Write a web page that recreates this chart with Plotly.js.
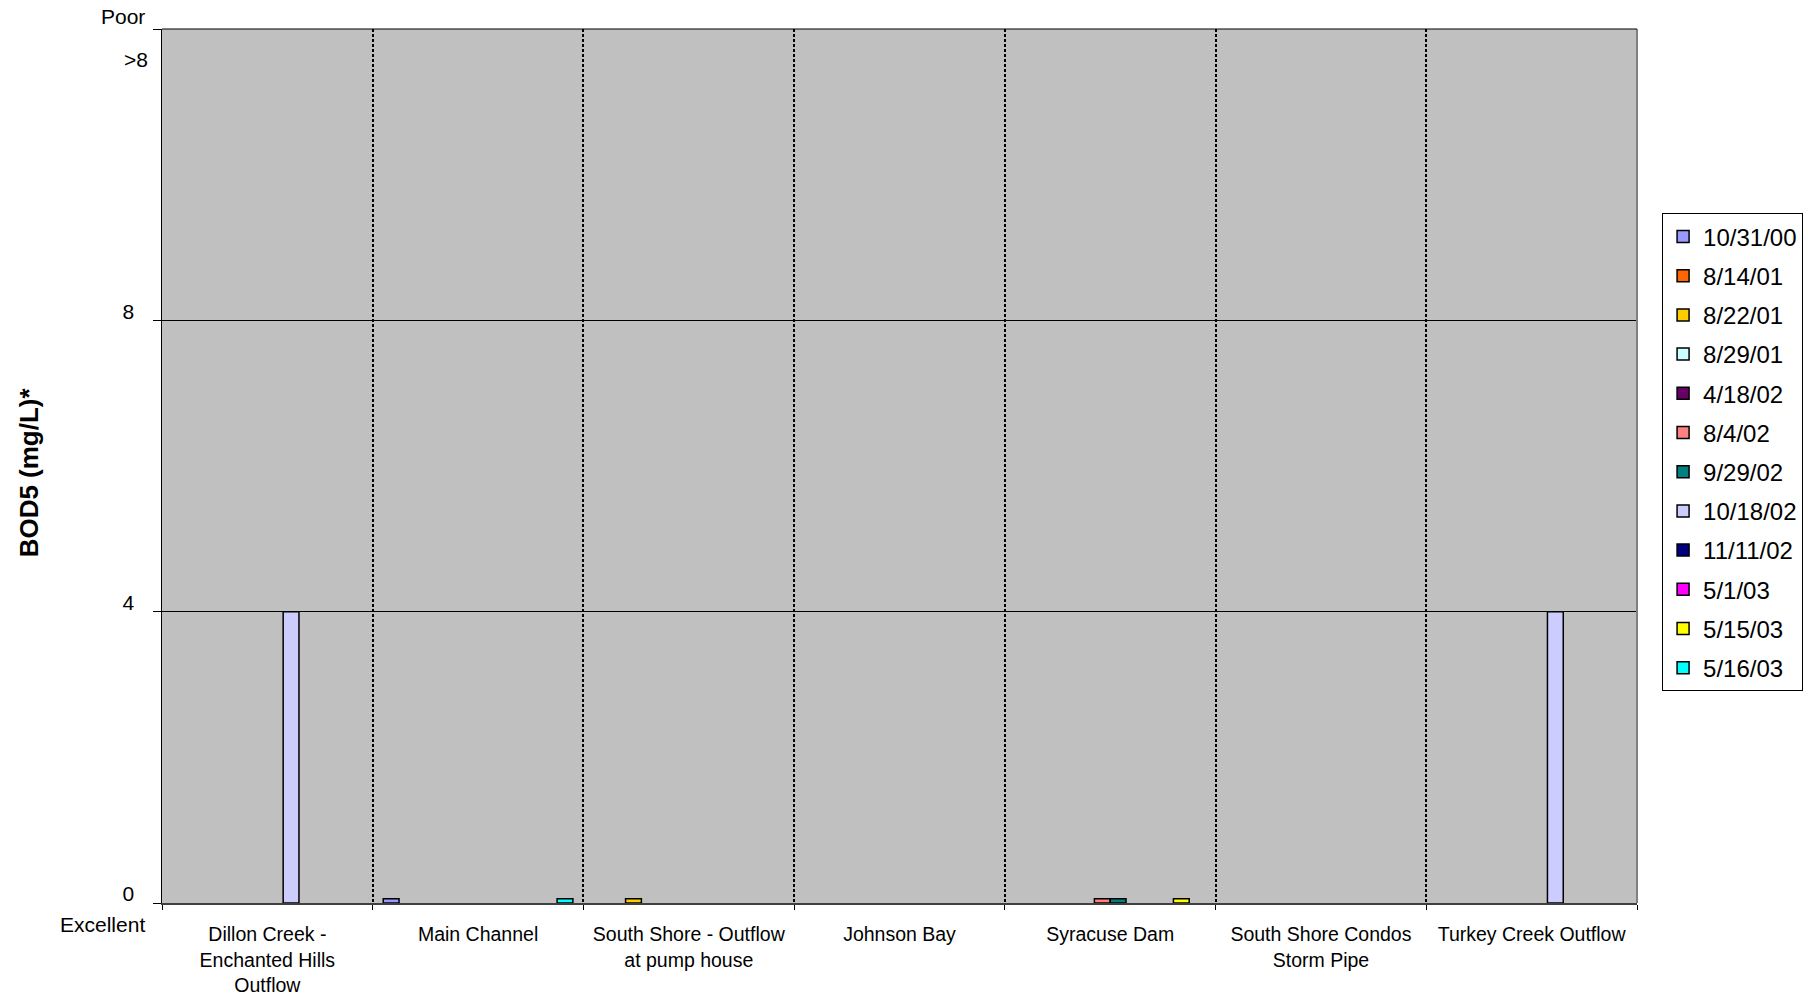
<!DOCTYPE html>
<html>
<head>
<meta charset="utf-8">
<script src="https://cdn.plot.ly/plotly-3.0.1.min.js"></script>
<style>
  html, body { margin: 0; padding: 0; background: #fff; }
  #chart { width: 1806px; height: 998px; }
</style>
</head>
<body>
<div id="chart"></div>
<script>
// ---- data ----
const categories = [
  "Dillon Creek -<br>Enchanted Hills<br>Outflow",
  "Main Channel",
  "South Shore - Outflow<br>at pump house",
  "Johnson Bay",
  "Syracuse Dam",
  "South Shore Condos<br>Storm Pipe",
  "Turkey Creek Outflow"
];
const seriesNames = ["10/31/00","8/14/01","8/22/01","8/29/01","4/18/02","8/4/02",
                     "9/29/02","10/18/02","11/11/02","5/1/03","5/15/03","5/16/03"];
const v_10_31_00 = [null, 0.06, null, null, null, null, null];
const v_8_14_01  = [null, null, null, null, null, null, null];
const v_8_22_01  = [null, null, 0.06, null, null, null, null];
const v_8_29_01  = [null, null, null, null, null, null, null];
const v_4_18_02  = [null, null, null, null, null, null, null];
const v_8_4_02   = [null, null, null, null, 0.06, null, null];
const v_9_29_02  = [null, null, null, null, 0.06, null, null];
const v_10_18_02 = [4, null, null, null, null, null, 4];
const v_11_11_02 = [null, null, null, null, null, null, null];
const v_5_1_03   = [null, null, null, null, null, null, null];
const v_5_15_03  = [null, null, null, null, 0.06, null, null];
const v_5_16_03  = [null, 0.06, null, null, null, null, null];
const seriesValues = [v_10_31_00, v_8_14_01, v_8_22_01, v_8_29_01, v_4_18_02, v_8_4_02,
                      v_9_29_02, v_10_18_02, v_11_11_02, v_5_1_03, v_5_15_03, v_5_16_03];
const yTickVals = [0, 4, 8, 12];
const yTickText = ["0", "4", "8", ""];
const extraYLabels = [">8", "Poor", "Excellent"];

// ---- styles ----
const colors = ["#9999FF","#FF6600","#FFCC00","#CCFFFF","#660066","#FF8080",
                "#008080","#CCCCFF","#000080","#FF00FF","#FFFF00","#00FFFF"];
const extraYLabelPos = [0.965, 1.014, -0.025];   // paper fractions
const FONT = "Liberation Sans, Arial, sans-serif";

const traces = seriesNames.map((name, i) => ({
  type: "bar",
  name: name,
  x: categories,
  y: seriesValues[i],
  legendgroup: "g" + i,
  marker: { color: colors[i], line: { color: "#000000", width: 1.5 } },
  hoverinfo: "name+y"
}));

const annotations = extraYLabels.map((t, i) => ({
  text: t, xref: "paper", yref: "paper", x: 0, y: extraYLabelPos[i],
  xanchor: "right", yanchor: "middle", xshift: i === 0 ? -12 : -15, showarrow: false,
  font: { family: FONT, size: 21, color: "#000" }
}));
annotations.push({
  text: "<b>BOD5 (mg/L)*</b>", xref: "paper", yref: "paper",
  x: -0.09, y: 0.493, xanchor: "center", yanchor: "middle", textangle: -90,
  showarrow: false, font: { family: FONT, size: 26, color: "#000" }
});

const layout = {
  width: 1806, height: 998,
  margin: { l: 162, r: 169, t: 29, b: 95, pad: 0, autoexpand: false },
  paper_bgcolor: "#FFFFFF",
  plot_bgcolor: "#C0C0C0",
  font: { family: FONT, size: 21, color: "#000" },
  barmode: "group",
  bargap: 0.1,
  bargroupgap: 0,
  showlegend: true,
  legend: {
    x: 1.017, y: 0.789, xanchor: "left", yanchor: "top",
    bgcolor: "#FFFFFF", bordercolor: "#000000", borderwidth: 1,
    font: { family: FONT, size: 24, color: "#000" },
    traceorder: "grouped", tracegroupgap: 5, itemwidth: 30
  },
  xaxis: {
    type: "category",
    tickson: "boundaries",
    tickangle: 0,
    ticks: "outside", ticklen: 5, tickcolor: "#000",
    showgrid: true, gridcolor: "#000000", gridwidth: 2, griddash: "3px,2px",
    showline: true, linecolor: "#404040", linewidth: 2,
    tickfont: { family: FONT, size: 19.5, color: "#000" },
    ticklabelstandoff: 13,
    automargin: false,
    fixedrange: true
  },
  yaxis: {
    range: [0, 12],
    tickvals: yTickVals, ticktext: yTickText,
    ticks: "outside", ticklen: 8, tickcolor: "#000",
    showgrid: true, gridcolor: "#000000", gridwidth: 1,
    zeroline: false,
    showline: true, linecolor: "#000000", linewidth: 1.5,
    tickfont: { family: FONT, size: 21, color: "#000" },
    ticklabelshift: -9,
    ticklabelstandoff: 14,
    automargin: false,
    fixedrange: true
  },
  shapes: [
    { type: "line", xref: "paper", yref: "paper", x0: 1, x1: 1, y0: 0, y1: 1,
      line: { color: "#808080", width: 2 }, layer: "above" },
    { type: "line", xref: "paper", yref: "paper", x0: 0, x1: 1, y0: 1, y1: 1,
      line: { color: "#000000", width: 1 }, layer: "above" }
  ],
  annotations: annotations
};

Plotly.newPlot("chart", traces, layout, { displayModeBar: false, staticPlot: true });
</script>
</body>
</html>
